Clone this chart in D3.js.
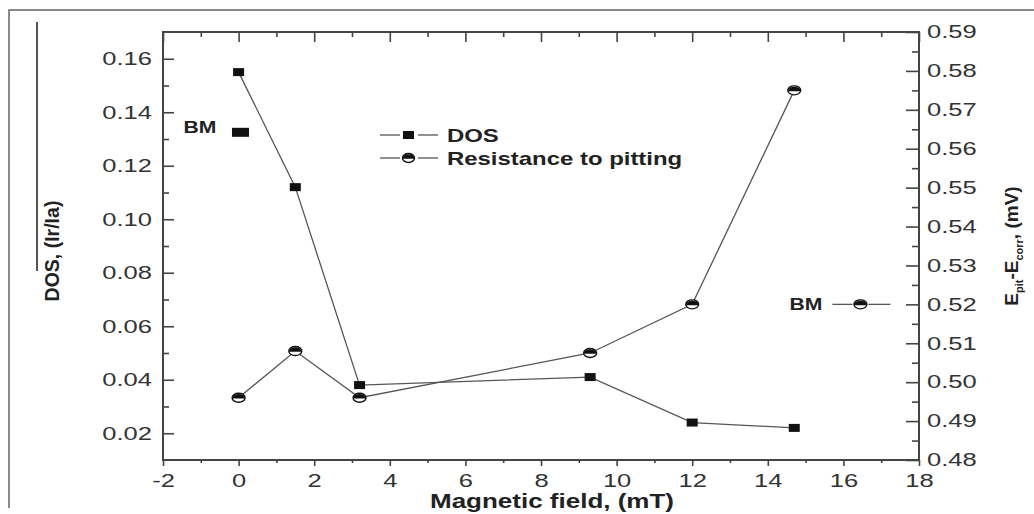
<!DOCTYPE html>
<html>
<head>
<meta charset="utf-8">
<script src="https://cdn.jsdelivr.net/npm/d3@7"></script>
<style>
  body { margin: 0; background: #fff; }
  svg { display: block; font-family: 'Liberation Sans', Arial, sans-serif; }
</style>
</head>
<body>
<div id="chart"></div>
<script>
// data
const fieldMT = [0, 1.5, 3.2, 9.3, 12, 14.7];
const dosValues = [0.155, 0.112, 0.038, 0.041, 0.024, 0.022];
const pittingValues = [0.496, 0.508, 0.496, 0.5075, 0.520, 0.575];

// base metal reference points
const bmDos = [0.05, 0.1325];
const bmPitting = [16.45, 0.52];

const xTicks = [-2, 0, 2, 4, 6, 8, 10, 12, 14, 16, 18];
const xMinorTicks = [-1, 1, 3, 5, 7, 9, 11, 13, 15, 17];
const dosTicks = [0.02, 0.04, 0.06, 0.08, 0.10, 0.12, 0.14, 0.16];
const dosMinorTicks = [0.03, 0.05, 0.07, 0.09, 0.11, 0.13, 0.15];
const pitTicks = [0.48, 0.49, 0.50, 0.51, 0.52, 0.53, 0.54, 0.55, 0.56, 0.57, 0.58, 0.59];
const pitMinorTicks = [0.485, 0.495, 0.505, 0.515, 0.525, 0.535, 0.545, 0.555, 0.565, 0.575, 0.585];

const W = 1034;
const H = 514;
const margin = { left: 163, right: 115, top: 32, bottom: 54 };
const width = W - margin.left - margin.right;
const height = H - margin.top - margin.bottom;

// the source figure is stretched sideways, so horizontal text is too
const stretch = 1.42;
const axisColor = '#444';
const lineColor = '#555';

const scale = {
  x: d3.scaleLinear().domain([-2, 18]).range([0, width]),
  dos: d3.scaleLinear().domain([0.01, 0.17]).range([height, 0]),
  pit: d3.scaleLinear().domain([0.48, 0.59]).range([height, 0])
};

const svg = d3.select('#chart').append('svg')
    .attr('width', W)
    .attr('height', H);

// outer frame (top and left only)
svg.append('path')
  .attr('d', `M9,508 L9,10 L${W},10`)
  .attr('fill', 'none')
  .attr('stroke', '#666')
  .attr('stroke-width', 1.5);

const g = svg.append('g')
  .attr('transform', `translate(${margin.left}, ${margin.top})`);

const styleTicks = (sel) => {
  sel.select('.domain').remove();
  sel.selectAll('line').attr('stroke', axisColor).attr('stroke-width', 1.6);
};

const styleLabels = (sel, x) => {
  sel.selectAll('text')
    .attr('fill', '#333')
    .attr('font-size', 18)
    .attr('transform', `scale(${stretch},1)`);
  if (x !== undefined) {
    sel.selectAll('text').attr('x', x / stretch);
  }
};

// bottom axis (plain hyphen for negatives, like the source)
g.append('g')
  .attr('transform', `translate(0, ${height})`)
  .call(d3.axisBottom(scale.x).tickValues(xTicks).tickSize(6).tickPadding(8).tickFormat((d) => String(d)))
  .call(styleTicks)
  .call((s) => styleLabels(s));
g.append('g')
  .attr('transform', `translate(0, ${height})`)
  .call(d3.axisBottom(scale.x).tickValues(xMinorTicks).tickSize(3).tickFormat(''))
  .call(styleTicks);

// top axis, ticks inward
g.append('g')
  .call(d3.axisTop(scale.x).tickValues(xTicks).tickSize(-10).tickFormat(''))
  .call(styleTicks);
g.append('g')
  .call(d3.axisTop(scale.x).tickValues(xMinorTicks).tickSize(-5).tickFormat(''))
  .call(styleTicks);

// left axis (DOS), ticks inward
g.append('g')
  .call(d3.axisLeft(scale.dos).tickValues(dosTicks).tickSize(-11).tickFormat(d3.format('.2f')))
  .call(styleTicks)
  .call((s) => styleLabels(s, -11));
g.append('g')
  .call(d3.axisLeft(scale.dos).tickValues(dosMinorTicks).tickSize(-6).tickFormat(''))
  .call(styleTicks);

// right axis (Epit - Ecorr), ticks inward
g.append('g')
  .attr('transform', `translate(${width}, 0)`)
  .call(d3.axisRight(scale.pit).tickValues(pitTicks).tickSize(-13).tickFormat(d3.format('.2f')))
  .call(styleTicks)
  .call((s) => styleLabels(s, 8));
g.append('g')
  .attr('transform', `translate(${width}, 0)`)
  .call(d3.axisRight(scale.pit).tickValues(pitMinorTicks).tickSize(-7).tickFormat(''))
  .call(styleTicks);

// plot box
g.append('rect')
  .attr('width', width)
  .attr('height', height)
  .attr('fill', 'none')
  .attr('stroke', axisColor)
  .attr('stroke-width', 2);

// series lines
const dosPoints = fieldMT.map((f, i) => [f, dosValues[i]]);
const pitPoints = fieldMT.map((f, i) => [f, pittingValues[i]]);

g.append('path')
  .datum(dosPoints)
  .attr('fill', 'none')
  .attr('stroke', lineColor)
  .attr('stroke-width', 1.3)
  .attr('d', d3.line().x((d) => scale.x(d[0])).y((d) => scale.dos(d[1])));

g.append('path')
  .datum(pitPoints)
  .attr('fill', 'none')
  .attr('stroke', lineColor)
  .attr('stroke-width', 1.3)
  .attr('d', d3.line().x((d) => scale.x(d[0])).y((d) => scale.pit(d[1])));

// markers
const squareW = 11;
const squareH = 8;
const halfCircle = (sel, rx, ry) => {
  sel.append('ellipse')
    .attr('rx', rx)
    .attr('ry', ry)
    .attr('fill', '#fff')
    .attr('stroke', '#111')
    .attr('stroke-width', 1.4);
  sel.append('path')
    .attr('d', `M${-rx},0.8 A${rx},${ry} 0 1 1 ${rx},0.8 Z`)
    .attr('fill', '#111');
};

g.selectAll('.dos-dot')
  .data(dosPoints)
  .enter()
  .append('rect')
  .attr('class', 'dos-dot')
  .attr('x', (d) => scale.x(d[0]) - squareW / 2)
  .attr('y', (d) => scale.dos(d[1]) - squareH / 2)
  .attr('width', squareW)
  .attr('height', squareH)
  .attr('fill', '#111');

g.selectAll('.pit-dot')
  .data(pitPoints)
  .enter()
  .append('g')
  .attr('class', 'pit-dot')
  .attr('transform', (d) => `translate(${scale.x(d[0])}, ${scale.pit(d[1])})`)
  .each(function () { halfCircle(d3.select(this), 6.5, 4.5); });

// BM for DOS
g.append('rect')
  .attr('x', scale.x(bmDos[0]) - 8.5)
  .attr('y', scale.dos(bmDos[1]) - 4.5)
  .attr('width', 17)
  .attr('height', 9)
  .attr('fill', '#111');

const stretchedText = (parent, x, y, txt, size, anchor) => parent.append('text')
  .attr('transform', `translate(${x}, ${y}) scale(${stretch * 0.93},1)`)
  .attr('text-anchor', anchor || 'start')
  .attr('font-size', size)
  .attr('font-weight', 'bold')
  .attr('fill', '#222')
  .text(txt);

stretchedText(g, scale.x(bmDos[0]) - 57, scale.dos(bmDos[1]) + 1, 'BM', 16);

// BM for pitting
const bmX = scale.x(bmPitting[0]);
const bmY = scale.pit(bmPitting[1]);
g.append('line')
  .attr('x1', bmX - 28).attr('x2', bmX - 8)
  .attr('y1', bmY).attr('y2', bmY)
  .attr('stroke', lineColor).attr('stroke-width', 1.3);
g.append('line')
  .attr('x1', bmX + 8).attr('x2', bmX + 30)
  .attr('y1', bmY).attr('y2', bmY)
  .attr('stroke', lineColor).attr('stroke-width', 1.3);
halfCircle(g.append('g').attr('transform', `translate(${bmX}, ${bmY})`), 6.5, 4.5);
stretchedText(g, bmX - 38, bmY + 6, 'BM', 16, 'end');

// legend
const legend = svg.append('g')
  .attr('class', 'legend')
  .attr('transform', 'translate(380, 135)');
const legendItems = ['DOS', 'Resistance to pitting'];

legend.selectAll('.lg-line-a')
  .data(legendItems)
  .enter()
  .append('line')
  .attr('x1', 0).attr('x2', 20)
  .attr('y1', (d, i) => i * 23).attr('y2', (d, i) => i * 23)
  .attr('stroke', lineColor).attr('stroke-width', 1.3);
legend.selectAll('.lg-line-b')
  .data(legendItems)
  .enter()
  .append('line')
  .attr('x1', 38).attr('x2', 58)
  .attr('y1', (d, i) => i * 23).attr('y2', (d, i) => i * 23)
  .attr('stroke', lineColor).attr('stroke-width', 1.3);

legend.append('rect')
  .attr('x', 23).attr('y', -4)
  .attr('width', 11).attr('height', 8)
  .attr('fill', '#111');
halfCircle(legend.append('g').attr('transform', 'translate(28.5, 23)'), 6, 4.5);

legendItems.forEach((d, i) => {
  legend.append('text')
    .attr('transform', `translate(67, ${i * 23 + 7}) scale(1.33,1)`)
    .attr('font-size', 18)
    .attr('font-weight', 'bold')
    .attr('fill', '#222')
    .text(d);
});

// axis titles
svg.append('text')
  .attr('transform', `translate(${(margin.left + W - margin.right) / 2 + 11}, 508) scale(1.3,1)`)
  .attr('text-anchor', 'middle')
  .attr('font-size', 20)
  .attr('font-weight', 'bold')
  .attr('fill', '#222')
  .text('Magnetic field, (mT)');

svg.append('text')
  .attr('transform', 'translate(59, 251) rotate(-90)')
  .attr('text-anchor', 'middle')
  .attr('font-size', 19.5)
  .attr('font-weight', 'bold')
  .attr('fill', '#222')
  .text('DOS, (Ir/Ia)');

// overbar of the DOS label
svg.append('line')
  .attr('x1', 37).attr('x2', 37)
  .attr('y1', 22).attr('y2', 271)
  .attr('stroke', '#555')
  .attr('stroke-width', 2);

const rightTitle = svg.append('text')
  .attr('transform', 'translate(1018, 246) rotate(-90)')
  .attr('text-anchor', 'middle')
  .attr('font-size', 19)
  .attr('font-weight', 'bold')
  .attr('fill', '#222');
rightTitle.append('tspan').text('E');
rightTitle.append('tspan').attr('font-size', 11).attr('dy', 5).text('pit');
rightTitle.append('tspan').attr('dy', -5).text('-E');
rightTitle.append('tspan').attr('font-size', 11).attr('dy', 5).text('corr');
rightTitle.append('tspan').attr('dy', -5).text(', (mV)');
</script>
</body>
</html>
